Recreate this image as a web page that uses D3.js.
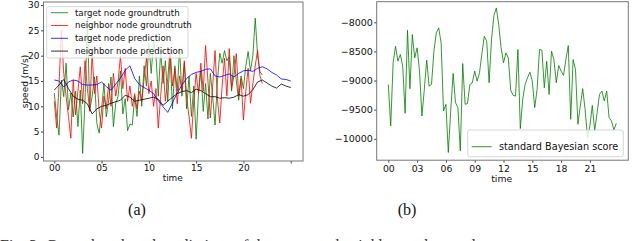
<!DOCTYPE html>
<html>
<head>
<meta charset="utf-8">
<script src="https://cdn.jsdelivr.net/npm/d3@7"></script>
<style>
body { margin: 0; background: #fff; }
</style>
</head>
<body>
<script>
// ---- data ----
// groundtruth series, one value every 15 minutes
var targetTruth = [12.6, 8.0, 4.3, 15.2, 11.9, 18.5, 9.3, 12.6, 7.9, 13.0, 6.0, 13.2, 0.7, 11.2, 27.5, 9.3,
  11.9, 15.8, 6.6, 4.7, 9.3, 14.5, 7.9, 11.2, 15.8, 6.0, 10.6, 12.0, 17.0, 8.5, 11.5, 5.2, 6.5, 6.3, 12.0,
  8.0, 16.0, 10.0, 18.0, 14.0, 22.5, 16.5, 23.0, 20.0, 12.0, 21.0, 14.5, 19.0, 11.0, 20.0, 9.5, 18.0, 13.0,
  21.5, 12.0, 18.5, 9.5, 16.0, 8.0, 14.0, 3.5, 12.5, 17.0, 9.0, 14.5, 7.5, 16.5, 12.0, 6.3, 15.0, 20.5,
  18.5, 21.0, 19.0, 19.8, 13.0, 20.0, 15.0, 11.2, 16.0, 13.5, 18.0, 20.8, 17.0, 20.0, 27.4, 20.0, 16.8, 16.2];
var neighborTruth = [11.0, 5.7, 14.0, 25.0, 16.5, 12.0, 8.0, 3.7, 15.2, 8.3, 13.0, 17.8, 10.5, 19.0, 13.5,
  9.0, 20.5, 12.5, 16.0, 9.0, 5.7, 12.0, 9.5, 14.5, 10.0, 16.5, 12.0, 15.0, 20.0, 13.5, 17.5, 11.0, 14.0,
  10.0, 12.5, 9.5, 13.0, 11.0, 15.5, 19.5, 12.5, 15.0, 10.0, 13.5, 5.7, 12.0, 18.0, 11.0, 15.5, 21.5, 14.0,
  17.5, 10.5, 16.0, 13.0, 19.0, 11.5, 8.0, 3.7, 11.0, 16.5, 12.5, 18.5, 13.0, 22.0, 15.0, 7.7, 14.0, 21.0,
  11.5, 6.7, 14.0, 19.5, 12.0, 21.4, 13.5, 16.0, 20.4, 12.0, 15.5, 7.3, 13.0, 17.5, 10.6, 14.5, 18.0, 21.1,
  16.0, 14.5];
// predictions, one value every 30 minutes
var targetPred = [15.2, 15.0, 13.8, 14.8, 15.2, 15.0, 14.3, 14.2, 14.2, 14.3, 14.8, 13.9, 13.2, 14.4, 15.6,
  17.1, 18.0, 15.5, 14.3, 13.7, 13.2, 12.5, 11.1, 9.9, 8.8, 10.7, 12.6, 14.2, 15.5, 16.3, 16.7, 16.9, 17.3,
  17.4, 16.0, 15.8, 16.1, 16.4, 15.8, 16.5, 17.0, 17.1, 16.9, 17.5, 17.8, 17.4, 16.7, 16.2, 15.4, 15.3, 15.0];
var neighborPred = [13.2, 14.2, 15.3, 13.5, 12.0, 11.4, 11.2, 10.5, 8.5, 9.5, 10.0, 10.2, 10.6, 10.9, 11.2,
  12.2, 11.8, 11.0, 11.2, 11.4, 11.6, 11.8, 11.4, 10.2, 11.0, 11.8, 12.5, 12.9, 13.1, 12.7, 13.4, 13.1, 12.5,
  11.9, 11.9, 11.6, 11.7, 11.6, 11.8, 12.3, 12.0, 12.3, 13.3, 14.8, 15.2, 14.6, 14.0, 13.6, 14.4, 14.0, 13.7];
// bayesian score, one value every 15 minutes
var bayesScore = [-9067, -9780, -8695, -8411, -8668, -8553, -8753, -9563, -8137, -9140, -8211, -8610, -8438,
  -8838, -9609, -9152, -8650, -9096, -9067, -8496, -8181, -8096, -8353, -9524, -9409, -10236, -9524, -8878,
  -9380, -9466, -10208, -8707, -9409, -9392, -9067, -9038, -8838, -9010, -8866, -8536, -8240, -8325, -9038,
  -8296, -7885, -7753, -8039, -8438, -8695, -8524, -8610, -9164, -9255, -9267, -8467, -9825, -9324, -9067,
  -8952, -8856, -9010, -9466, -9152, -8467, -8479, -9124, -8668, -9238, -8496, -8639, -9038, -8741, -8838,
  -8912, -8639, -8399, -9666, -8639, -8810, -9751, -9438, -9140, -9495, -9979, -9780, -9426, -9866, -9552,
  -9238, -9181, -9352, -9181, -9637, -9695, -9849, -9734];

var speedTicks = [0, 5, 10, 15, 20, 25, 30];
var timeTicksA = [0, 5, 10, 15, 20, 25];
var timeLabelsA = ["00", "05", "10", "15", "20", ""];
var scoreTicks = [-10000, -9500, -9000, -8500, -8000];
var timeTicksB = [0, 3, 6, 9, 12, 15, 18, 21];
var timeLabelsB = ["00", "03", "06", "09", "12", "15", "18", "21"];

var legendA = ["target node groundtruth", "neighbor node groundtruth", "target node prediction", "neighbor node prediction"];
var legendB = ["standard Bayesian score"];
var colorsA = ["green", "red", "blue", "black"];

var sans = "DejaVu Sans, sans-serif";
var serif = "Liberation Serif, Times New Roman, serif";

var svgWidth = 640;
var svgHeight = 241;

var svg = d3.select("body")
  .append("svg")
  .attr("width", svgWidth)
  .attr("height", svgHeight);

// two panels, placed to match the picture
var panelA = { left: 43.5, top: 2, width: 259.5, height: 159 };
var panelB = { left: 376.7, top: 1.7, width: 251.6, height: 158.5 };

function styleAxis(size) {
  return function(g) {
    g.select(".domain").remove();
    g.selectAll(".tick line").attr("stroke", "#444");
    g.selectAll(".tick text").attr("font-size", size + "px").attr("fill", "#111")
      .attr("font-family", sans);
  };
}

// ---------- panel (a) ----------
var groupA = svg.append("g")
  .attr("transform", `translate(${panelA.left}, ${panelA.top})`);

var xA = d3.scaleLinear().domain([-1.14, 26.3]).range([0, panelA.width]);
var yA = d3.scaleLinear().domain([-0.8, 30.6]).range([panelA.height, 0]);

groupA.append("g")
  .attr("transform", `translate(0, ${panelA.height})`)
  .call(d3.axisBottom(xA).tickValues(timeTicksA).tickFormat((d, i) => timeLabelsA[i]).tickSize(2.5).tickPadding(1.2))
  .call(styleAxis(9));

groupA.append("g")
  .call(d3.axisLeft(yA).tickValues(speedTicks).tickSize(2.5).tickPadding(1.5))
  .call(styleAxis(9));

var truthLine = d3.line().x((d, i) => xA(i * 0.25)).y(d => yA(d));
var predLine = d3.line().x((d, i) => xA(i * 0.5)).y(d => yA(d));

var seriesA = [
  { values: targetTruth, line: truthLine },
  { values: neighborTruth, line: truthLine },
  { values: targetPred, line: predLine },
  { values: neighborPred, line: predLine }
];

seriesA.forEach(function(s, i) {
  groupA.append("path")
    .attr("d", s.line(s.values))
    .attr("fill", "none")
    .attr("stroke", colorsA[i])
    .attr("stroke-width", 1)
    .attr("stroke-opacity", 0.8)
    .attr("stroke-linejoin", "round");
});

groupA.append("rect")
  .attr("width", panelA.width)
  .attr("height", panelA.height)
  .attr("fill", "none")
  .attr("stroke", "#777")
  .attr("stroke-width", 1);

// legend (a)
var legA = groupA.append("g").attr("transform", "translate(3.2, 4.7)");
legA.append("rect")
  .attr("width", 141.3).attr("height", 51.3).attr("rx", 2)
  .attr("fill", "white").attr("fill-opacity", 0.8)
  .attr("stroke", "#ccc").attr("stroke-width", 0.8);
legendA.forEach(function(name, i) {
  var yy = 6 + i * 12.8;
  legA.append("line")
    .attr("x1", 4.3).attr("x2", 21.3).attr("y1", yy).attr("y2", yy)
    .attr("stroke", colorsA[i]).attr("stroke-width", 1).attr("stroke-opacity", 0.8);
  legA.append("text")
    .attr("x", 28.3).attr("y", yy).attr("dy", "0.35em")
    .attr("font-family", sans).attr("font-size", "8.6px").attr("fill", "#111")
    .text(name);
});

groupA.append("text")
  .attr("x", 172.7 - panelA.left).attr("y", 181 - panelA.top)
  .attr("text-anchor", "middle")
  .attr("font-family", sans).attr("font-size", "8.9px").attr("fill", "#111")
  .text("time");

groupA.append("text")
  .attr("transform", "rotate(-90)")
  .attr("x", -panelA.height / 2).attr("y", -15.5)
  .attr("text-anchor", "middle")
  .attr("font-family", sans).attr("font-size", "9px").attr("fill", "#111")
  .text("speed (m/s)");

// ---------- panel (b) ----------
var groupB = svg.append("g")
  .attr("transform", `translate(${panelB.left}, ${panelB.top})`);

var xB = d3.scaleLinear().domain([-1.21, 25.0]).range([0, panelB.width]);
var yB = d3.scaleLinear().domain([-10368, -7646]).range([panelB.height, 0]);

groupB.append("g")
  .attr("transform", `translate(0, ${panelB.height})`)
  .call(d3.axisBottom(xB).tickValues(timeTicksB).tickFormat((d, i) => timeLabelsB[i]).tickSize(2.5).tickPadding(2.3))
  .call(styleAxis(9.3));

groupB.append("g")
  .call(d3.axisLeft(yB).tickValues(scoreTicks).tickFormat(d3.format("d")).tickSize(2.5).tickPadding(1.3))
  .call(styleAxis(9.5));

groupB.append("path")
  .attr("d", d3.line().x((d, i) => xB(i * 0.25)).y(d => yB(d))(bayesScore))
  .attr("fill", "none")
  .attr("stroke", "green")
  .attr("stroke-width", 1)
  .attr("stroke-opacity", 0.8)
  .attr("stroke-linejoin", "round");

groupB.append("rect")
  .attr("width", panelB.width)
  .attr("height", panelB.height)
  .attr("fill", "none")
  .attr("stroke", "#777")
  .attr("stroke-width", 1);

var legB = groupB.append("g").attr("transform", "translate(91, 128.3)");
legB.append("rect")
  .attr("width", 155.6).attr("height", 26.7).attr("rx", 2)
  .attr("fill", "white").attr("fill-opacity", 0.8)
  .attr("stroke", "#ccc").attr("stroke-width", 0.8);
legendB.forEach(function(name) {
  legB.append("line")
    .attr("x1", 4).attr("x2", 24).attr("y1", 16.7).attr("y2", 16.7)
    .attr("stroke", "green").attr("stroke-width", 1).attr("stroke-opacity", 0.8);
  legB.append("text")
    .attr("x", 31.3).attr("y", 16.7).attr("dy", "0.35em")
    .attr("font-family", sans).attr("font-size", "9.7px").attr("fill", "#111")
    .text(name);
});

groupB.append("text")
  .attr("x", 501.7 - panelB.left).attr("y", 182 - panelB.top)
  .attr("text-anchor", "middle")
  .attr("font-family", sans).attr("font-size", "9.3px").attr("fill", "#111")
  .text("time");

// ---------- captions ----------
svg.append("text")
  .attr("x", 137).attr("y", 215)
  .attr("text-anchor", "middle")
  .attr("font-family", serif).attr("font-size", "16px").attr("fill", "#111")
  .text("(a)");

svg.append("text")
  .attr("x", 407).attr("y", 215)
  .attr("text-anchor", "middle")
  .attr("font-family", serif).attr("font-size", "16px").attr("fill", "#111")
  .text("(b)");

svg.append("text")
  .attr("x", 0).attr("y", 251)
  .attr("font-family", serif).attr("font-size", "16px").attr("fill", "#333")
  .text("Fig. 3: Ground truth and predictions of the target and neighbor node speed");
</script>
</body>
</html>
